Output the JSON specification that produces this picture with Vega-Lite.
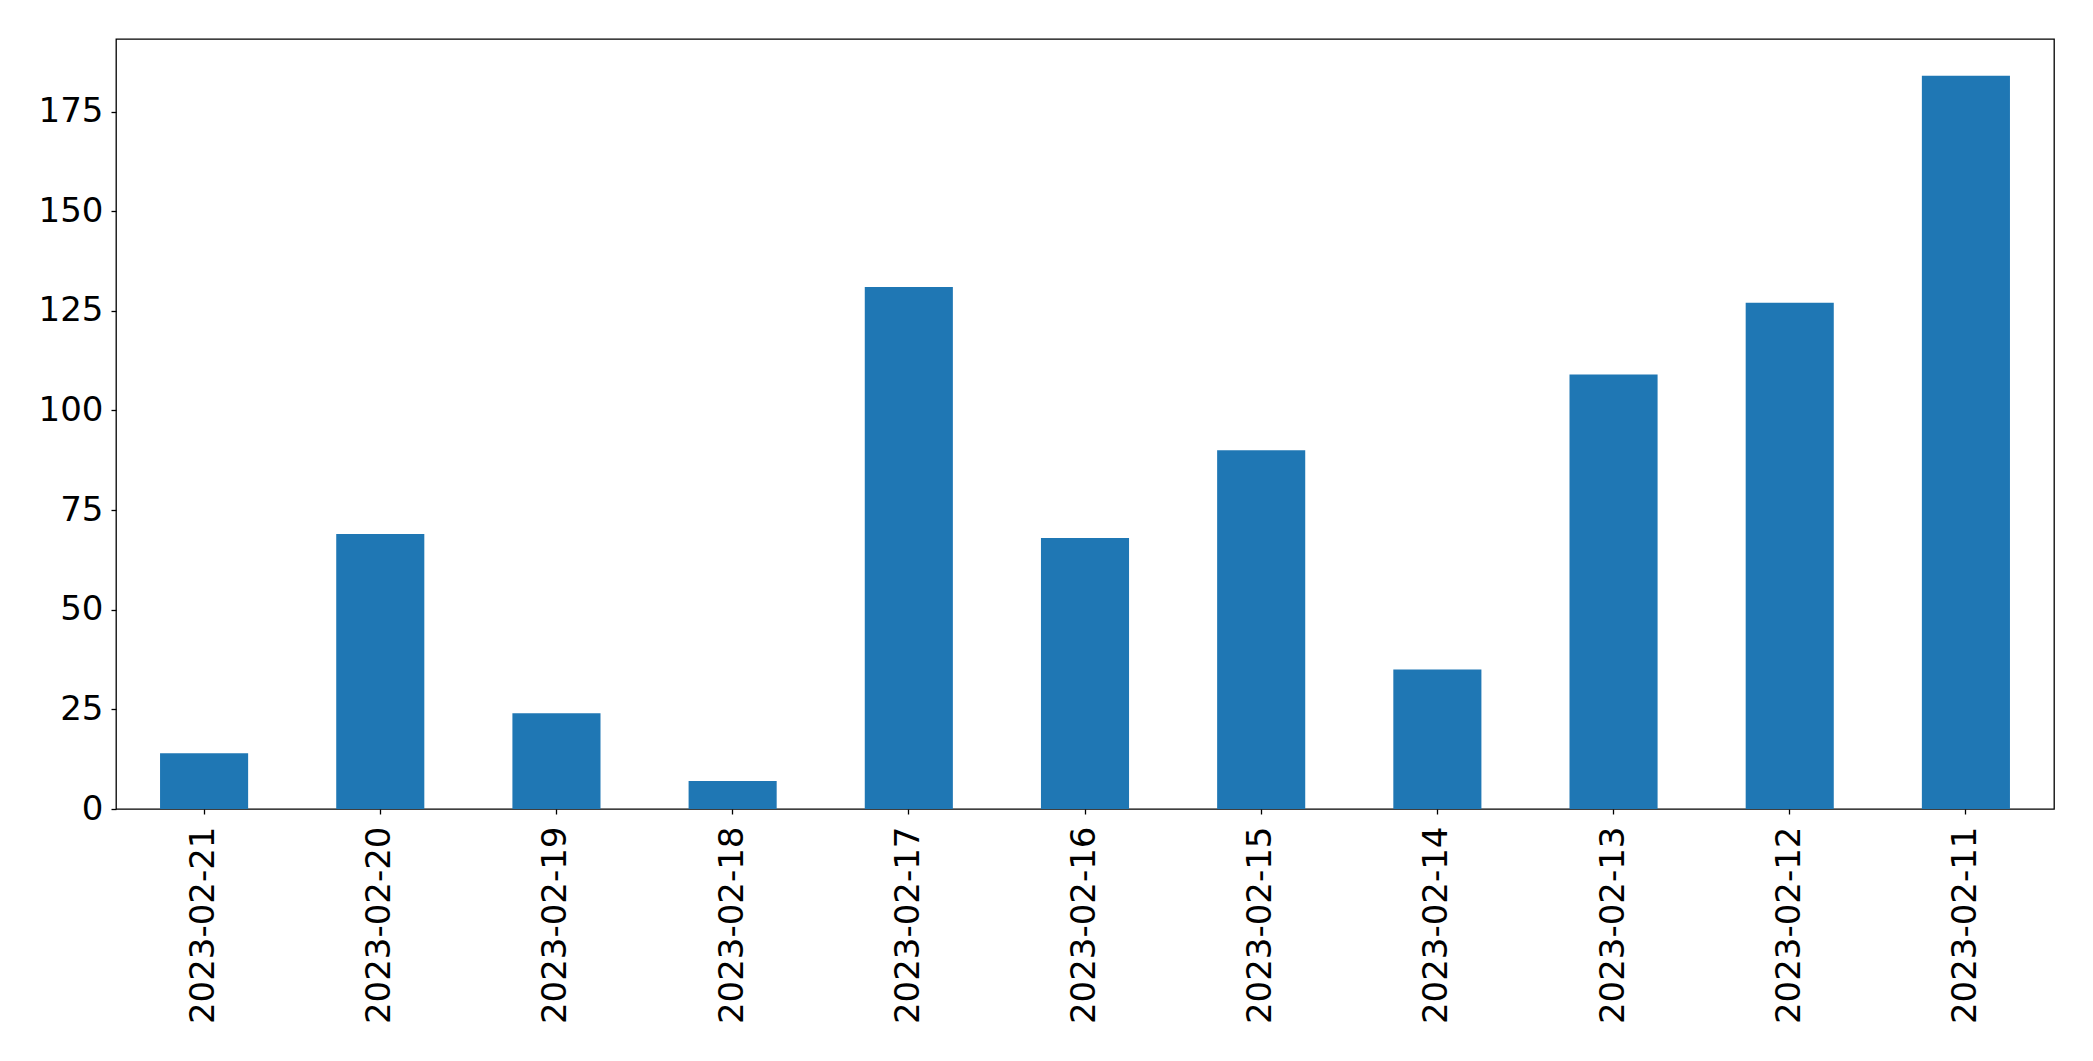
{
  "$schema": "https://vega.github.io/schema/vega-lite/v6.json",
  "autosize": {"type": "none"},
  "padding": {"left": 116, "top": 39, "right": 39, "bottom": 252},
  "width": 1938,
  "height": 770,
  "background": "white",
  "config": {
    "view": {"stroke": "#000000", "strokeWidth": 1.3},
    "font": "DejaVu Sans",
    "axis": {
      "domain": false,
      "grid": false,
      "ticks": true,
      "tickColor": "#000000",
      "tickWidth": 1.3,
      "tickSize": 5,
      "labelFont": "DejaVu Sans",
      "labelFontSize": 34,
      "labelColor": "#000000",
      "labelLimit": 1000,
      "title": null
    }
  },
  "data": {
    "values": [
      {"date": "2023-02-21", "count": 14},
      {"date": "2023-02-20", "count": 69},
      {"date": "2023-02-19", "count": 24},
      {"date": "2023-02-18", "count": 7},
      {"date": "2023-02-17", "count": 131},
      {"date": "2023-02-16", "count": 68},
      {"date": "2023-02-15", "count": 90},
      {"date": "2023-02-14", "count": 35},
      {"date": "2023-02-13", "count": 109},
      {"date": "2023-02-12", "count": 127},
      {"date": "2023-02-11", "count": 184}
    ]
  },
  "mark": {"type": "bar", "color": "#1f77b4"},
  "encoding": {
    "x": {
      "field": "date",
      "type": "nominal",
      "sort": null,
      "scale": {"paddingInner": 0.5, "paddingOuter": 0.25},
      "axis": {"labelAngle": 270, "labelPadding": 12}
    },
    "y": {
      "field": "count",
      "type": "quantitative",
      "scale": {"domain": [0, 193.2], "nice": false, "zero": true},
      "axis": {"values": [0, 25, 50, 75, 100, 125, 150, 175], "labelPadding": 8}
    }
  }
}
